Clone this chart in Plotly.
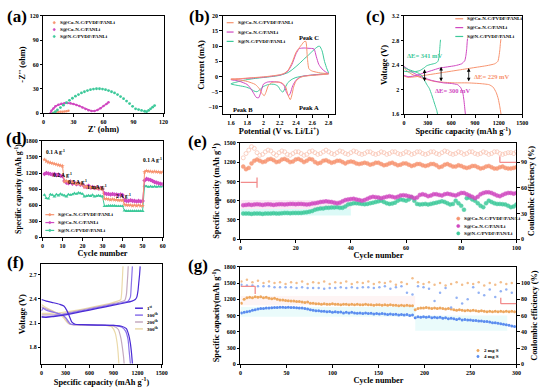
import plotly.graph_objects as go

W, H = 550, 389
FONT = "Liberation Serif"

# ---------------- data ----------------
# (a) Nyquist plots
a_or_x = [9, 11, 13, 15, 17, 19, 21, 23, 25]
a_or_y = [0, 0.8, 1.3, 1.6, 1.8, 2.0, 2.2, 2.5, 3.0]
a_mg_x = [7, 8, 10, 12, 15, 18, 21, 24, 27, 30, 33, 36, 39, 42, 45, 48, 51, 54, 57, 60, 63, 65]
a_mg_y = [0, 3, 6, 8.5, 10.5, 11.8, 12.3, 12.5, 12.3, 11.5, 10.3, 8.8, 7, 5.3, 3.8, 2.8, 2.8, 4, 6.2, 8.8, 11.5, 13.5]
a_gr_x = [10, 12, 14, 17, 20, 23, 26, 29, 32, 35, 38, 41, 44, 47, 50, 53, 56, 59, 62, 65, 68, 71, 74, 77, 80, 83, 86, 89, 92, 95, 98, 101, 103, 105, 107, 109, 111]
a_gr_y = [0, 2, 4, 7, 10, 13, 16, 18.5, 21, 23, 25, 26.5, 28, 29, 29.8, 30.2, 30.2, 29.8, 29, 28, 26.5, 25, 23, 20.5, 18, 15, 12, 8.5, 5.5, 4.5, 3.5, 2.5, 2, 3.5, 5.5, 7.5, 9.5]

# (b) CV curves (cathodic scan 2.8->1.6, then anodic scan 1.6->2.8)
b_or_x = [2.8, 2.7, 2.6, 2.5, 2.45, 2.4, 2.37, 2.35, 2.33, 2.3, 2.27, 2.22, 2.15, 2.1, 2.06, 2.03, 2.01, 1.98, 1.95, 1.9, 1.8, 1.7, 1.6,
          1.7, 1.8, 1.9, 2.0, 2.1, 2.2, 2.25, 2.3, 2.35, 2.4, 2.44, 2.47, 2.5, 2.52, 2.54, 2.56, 2.6, 2.7, 2.8]
b_or_y = [0.9, 0.6, 0.4, 0.1, -0.3, -1.5, -3.5, -6, -7.6, -6, -3.2, -2, -1.8, -2, -3, -5.2, -6.3, -5.5, -4, -2.6, -1.6, -1.1, -0.8,
          -0.7, -0.5, -0.3, -0.1, 0.2, 0.6, 1.0, 2.0, 4.5, 8.0, 9.5, 10.5, 11.5, 11.6, 6, 2.5, 1.8, 1.2, 0.9]
b_mg_x = [2.8, 2.7, 2.6, 2.5, 2.45, 2.4, 2.36, 2.33, 2.31, 2.28, 2.25, 2.2, 2.12, 2.05, 2.0, 1.97, 1.94, 1.91, 1.88, 1.84, 1.8, 1.7, 1.6,
          1.7, 1.8, 1.9, 2.0, 2.1, 2.2, 2.25, 2.3, 2.35, 2.4, 2.44, 2.5, 2.56, 2.62, 2.65, 2.68, 2.72, 2.76, 2.8]
b_mg_y = [0.9, 0.7, 0.5, 0.2, -0.2, -1.2, -3, -5.5, -6.3, -5, -2.8, -1.9, -1.7, -1.8, -2.5, -5, -7, -6.8, -5.5, -3.8, -2.6, -1.5, -1,
          -0.8, -0.6, -0.4, -0.2, 0.1, 0.5, 0.9, 1.8, 4, 7.5, 9.2, 9.4, 9.3, 9.1, 6.5, 4, 2.5, 1.6, 1.0]
b_gr_x = [2.8, 2.7, 2.6, 2.5, 2.4, 2.35, 2.3, 2.27, 2.24, 2.21, 2.18, 2.14, 2.1, 2.05, 2.0, 1.96, 1.92, 1.88, 1.84, 1.78, 1.7, 1.6,
          1.7, 1.8, 1.9, 2.0, 2.1, 2.2, 2.3, 2.35, 2.4, 2.45, 2.5, 2.55, 2.6, 2.64, 2.67, 2.69, 2.72, 2.75, 2.78, 2.8]
b_gr_y = [1.1, 0.8, 0.5, 0.2, -0.3, -0.9, -2, -3.5, -5.1, -4.5, -3.2, -2.6, -2.5, -2.7, -3.3, -4.2, -5, -4.7, -4, -3.4, -3, -2.4,
          -1.6, -1, -0.6, -0.3, 0, 0.4, 1.3, 2.2, 3.3, 4.5, 5.8, 7, 8.3, 9.3, 9.9, 10, 8.5, 5, 2.5, 1.1]

# (c) charge/discharge profiles
c_or_dis_x = [0, 40, 100, 200, 300, 400, 500, 650, 800, 950, 1080, 1130, 1170, 1195, 1215, 1230]
c_or_dis_y = [2.36, 2.3, 2.25, 2.2, 2.16, 2.13, 2.12, 2.11, 2.11, 2.10, 2.08, 2.04, 1.95, 1.85, 1.72, 1.6]
c_or_chg_x = [0, 50, 150, 300, 500, 700, 900, 1050, 1150, 1190, 1205, 1215, 1222, 1228]
c_or_chg_y = [2.22, 2.2, 2.21, 2.24, 2.28, 2.32, 2.36, 2.39, 2.42, 2.46, 2.55, 2.65, 2.75, 2.82]
c_mg_dis_x = [0, 50, 120, 200, 280, 350, 420, 500, 600, 680, 720, 745, 760, 770, 778]
c_mg_dis_y = [2.38, 2.33, 2.27, 2.22, 2.18, 2.15, 2.13, 2.11, 2.10, 2.08, 2.03, 1.95, 1.82, 1.7, 1.6]
c_mg_chg_x = [0, 60, 150, 250, 350, 450, 550, 650, 730, 770, 785, 795, 800, 805]
c_mg_chg_y = [2.23, 2.21, 2.23, 2.27, 2.31, 2.35, 2.37, 2.39, 2.42, 2.47, 2.56, 2.67, 2.76, 2.83]
c_gr_dis_x = [0, 50, 120, 180, 230, 260, 290, 320, 350, 380, 400, 415, 425]
c_gr_dis_y = [2.36, 2.33, 2.3, 2.27, 2.22, 2.15, 2.08, 2.02, 1.92, 1.8, 1.72, 1.66, 1.6]
c_gr_chg_x = [0, 60, 130, 200, 250, 290, 340, 400, 430, 445, 452, 458, 462]
c_gr_chg_y = [2.3, 2.29, 2.29, 2.31, 2.35, 2.39, 2.41, 2.43, 2.46, 2.55, 2.65, 2.75, 2.81]
c_arrow_x = [260, 470, 820]
c_arrow_top = [2.33, 2.37, 2.35]
c_arrow_bot = [2.11, 2.11, 2.11]

# (d) rate performance
d_cycles = list(range(1, 61))
d_or = [1450, 1420, 1400, 1390, 1380, 1370, 1360, 1350, 1340, 1330,
        1040, 1050, 1030, 1040, 1020, 1010, 1000, 1010, 990, 990,
        940, 950, 930, 940, 920, 930, 910, 920, 900, 910,
        720, 720, 710, 700, 710, 700, 700, 690, 690, 690,
        610, 600, 600, 600, 590, 600, 590, 600, 590, 590,
        1220, 1240, 1230, 1230, 1220, 1230, 1220, 1220, 1210, 1220]
d_mg = [1180, 1200, 1190, 1180, 1170, 1180, 1160, 1170, 1150, 1140,
        1050, 1020, 1010, 1040, 1000, 1020, 990, 1010, 980, 990,
        950, 940, 960, 930, 940, 920, 930, 910, 920, 900,
        820, 810, 810, 800, 810, 800, 800, 790, 800, 790,
        690, 680, 680, 690, 680, 680, 670, 680, 670, 680,
        1060, 1090, 1080, 1070, 1050, 1030, 1020, 1010, 1000, 990]
d_gr = [790, 730, 720, 800, 790, 760, 800, 780, 810, 790,
        780, 760, 800, 790, 800, 820, 810, 830, 820, 810,
        760, 770, 780, 770, 790, 760, 770, 780, 770, 760,
        580, 580, 590, 590, 590, 590, 580, 580, 580, 580,
        500, 490, 490, 490, 490, 490, 490, 490, 490, 490,
        960, 950, 940, 950, 940, 950, 940, 950, 945, 950]
d_labels = ["0.1 A g<sup>-1</sup>", "0.2 A g<sup>-1</sup>", "0.5 A g<sup>-1</sup>",
            "1 mA g<sup>-1</sup>", "2 A g<sup>-1</sup>", "0.1 A g<sup>-1</sup>"]
d_label_x = [6.5, 10, 17.5, 27, 40.5, 55]
d_label_y = [1600, 1160, 1040, 930, 775, 1445]

# (e) long cycling 100 cycles
e_cycles = list(range(1, 101))
e_or = [1130, 1090, 1110, 1180, 1220, 1240, 1220, 1200, 1210, 1240,
        1250, 1230, 1200, 1210, 1240, 1250, 1230, 1200, 1210, 1240,
        1250, 1230, 1200, 1220, 1250, 1240, 1200, 1180, 1190, 1220,
        1230, 1210, 1190, 1200, 1220, 1220, 1200, 1180, 1200, 1210,
        1200, 1180, 1170, 1180, 1190, 1180, 1160, 1170, 1190, 1190,
        1170, 1150, 1160, 1180, 1190, 1170, 1150, 1160, 1180, 1180,
        1160, 1140, 1150, 1170, 1170, 1150, 1140, 1150, 1170, 1170,
        1150, 1120, 1130, 1160, 1170, 1150, 1130, 1130, 1150, 1140,
        1120, 1110, 1120, 1140, 1140, 1120, 1100, 1110, 1130, 1140,
        1120, 1100, 1100, 1120, 1130, 1110, 1100, 1100, 1110, 1120]
e_or_ce = [95, 100, 104, 108, 106, 101, 98, 99, 102, 104,
           103, 100, 98, 101, 103, 102, 99, 98, 100, 102,
           102, 100, 98, 99, 102, 103, 101, 99, 100, 102,
           104, 102, 100, 99, 101, 103, 102, 100, 99, 101,
           103, 102, 100, 99, 100, 102, 102, 100, 99, 100,
           102, 101, 99, 100, 102, 102, 100, 99, 100, 102,
           101, 99, 100, 102, 102, 100, 99, 100, 102, 102,
           100, 99, 101, 103, 102, 100, 99, 100, 102, 101,
           99, 100, 102, 102, 100, 99, 100, 102, 101, 99,
           100, 102, 102, 100, 99, 100, 101, 101, 100, 102]
e_mg = [530, 535, 540, 535, 540, 545, 540, 535, 540, 545,
        540, 535, 540, 545, 545, 540, 545, 550, 550, 545,
        550, 550, 545, 540, 545, 555, 560, 570, 580, 585,
        590, 585, 580, 570, 560, 570, 590, 610, 620, 625,
        630, 620, 610, 600, 610, 630, 650, 660, 655, 650,
        640, 650, 660, 670, 660, 650, 660, 680, 685, 680,
        670, 660, 640, 650, 690, 700, 690, 670, 680, 700,
        700, 690, 680, 700, 710, 700, 690, 680, 700, 720,
        720, 700, 680, 660, 640, 660, 700, 720, 730, 730,
        720, 700, 680, 670, 690, 710, 720, 720, 710, 720]
e_gr = [400, 400, 400, 395, 400, 400, 400, 395, 400, 400,
        400, 405, 400, 400, 405, 410, 410, 405, 410, 410,
        410, 410, 415, 420, 430, 440, 460, 470, 480, 480,
        490, 490, 495, 495, 500, 490, 490, 510, 540, 550,
        560, 560, 555, 550, 545, 550, 560, 570, 580, 590,
        600, 580, 560, 550, 555, 570, 600, 620, 610, 600,
        620, 650, 600, 550, 540, 545, 550, 540, 550, 560,
        570, 580, 590, 580, 560, 540, 550, 600, 560, 520,
        460, 640, 650, 620, 600, 560, 520, 500, 560, 600,
        580, 560, 550, 550, 545, 540, 520, 500, 510, 540]

# (f) voltage profiles at selected cycles
f_names = ["1<sup>st</sup>", "100<sup>th</sup>", "200<sup>th</sup>", "300<sup>th</sup>"]
f_dis_x = [
    [0, 60, 150, 230, 280, 320, 350, 380, 420, 500, 700, 900, 1000, 1060, 1090, 1110, 1125, 1135],
    [0, 20, 60, 120, 200, 260, 300, 330, 360, 400, 500, 700, 900, 1000, 1050, 1080, 1095, 1110],
    [0, 50, 120, 200, 260, 300, 330, 360, 400, 600, 800, 900, 960, 990, 1010, 1025, 1032],
    [0, 40, 100, 180, 240, 280, 310, 340, 380, 600, 800, 880, 920, 945, 958, 966]]
f_dis_y = [
    [2.39, 2.37, 2.35, 2.33, 2.31, 2.25, 2.18, 2.11, 2.085, 2.08, 2.075, 2.07, 2.06, 2.03, 1.95, 1.85, 1.72, 1.6],
    [2.25, 2.28, 2.26, 2.24, 2.22, 2.2, 2.17, 2.13, 2.09, 2.08, 2.08, 2.075, 2.07, 2.05, 2.0, 1.9, 1.75, 1.6],
    [2.3, 2.28, 2.25, 2.22, 2.2, 2.16, 2.11, 2.085, 2.08, 2.075, 2.07, 2.06, 2.02, 1.92, 1.8, 1.68, 1.6],
    [2.33, 2.3, 2.27, 2.23, 2.2, 2.16, 2.12, 2.09, 2.08, 2.075, 2.07, 2.05, 1.98, 1.85, 1.72, 1.6]]
f_chg_x = [
    [0, 50, 150, 300, 500, 700, 900, 1050, 1130, 1170, 1190, 1205, 1215, 1225, 1232],
    [0, 100, 250, 450, 650, 850, 1000, 1080, 1110, 1120, 1128, 1135],
    [0, 100, 250, 450, 650, 850, 980, 1040, 1060, 1070, 1078, 1083],
    [0, 100, 250, 450, 650, 850, 950, 990, 1000, 1008, 1014, 1018]]
f_chg_y = [
    [2.18, 2.17, 2.18, 2.2, 2.24, 2.28, 2.32, 2.35, 2.37, 2.39, 2.42, 2.5, 2.6, 2.7, 2.8],
    [2.17, 2.18, 2.2, 2.24, 2.28, 2.32, 2.35, 2.37, 2.42, 2.55, 2.68, 2.8],
    [2.2, 2.2, 2.21, 2.25, 2.29, 2.33, 2.36, 2.38, 2.45, 2.58, 2.7, 2.8],
    [2.22, 2.22, 2.23, 2.26, 2.3, 2.34, 2.37, 2.39, 2.46, 2.6, 2.72, 2.8]]

# (g) high loading 300 cycles (capacity every 3 cycles, CE every 6 cycles)
g_cap_cycles = list(range(1, 300, 3))
g_2mg = [1130, 1200, 1230, 1240, 1230, 1250, 1240, 1250, 1230, 1240,
         1220, 1210, 1220, 1200, 1190, 1190, 1180, 1175, 1170, 1170,
         1160, 1160, 1150, 1140, 1150, 1130, 1130, 1120, 1120, 1110,
         1120, 1110, 1110, 1120, 1110, 1110, 1100, 1110, 1110, 1100,
         1110, 1100, 1110, 1100, 1100, 1110, 1100, 1100, 1090, 1100,
         1100, 1090, 1100, 1090, 1100, 1090, 1090, 1080, 1090, 1080,
         1090, 1080, 1080, 1010, 1030, 1040, 1040, 1050, 1040, 1030,
         1040, 1030, 1040, 1030, 1020, 1030, 1020, 1010, 1000, 1010,
         1000, 990, 1000, 990, 1000, 990, 980, 990, 980, 970,
         980, 970, 980, 970, 980, 970, 980, 970, 980, 970]
g_4mg = [950, 960, 970, 980, 1000, 1010, 1020, 1030, 1030, 1040,
         1040, 1045, 1050, 1050, 1055, 1055, 1050, 1055, 1050, 1050,
         1045, 1040, 1040, 1030, 1020, 1010, 1000, 990, 990, 980,
         980, 970, 975, 960, 970, 960, 965, 950, 960, 950,
         960, 950, 945, 950, 940, 950, 940, 945, 930, 940,
         930, 940, 930, 920, 930, 920, 925, 910, 920, 910,
         920, 900, 910, 860, 880, 870, 880, 870, 880, 860,
         870, 860, 870, 850, 860, 840, 850, 840, 830, 840,
         820, 830, 820, 820, 810, 810, 800, 800, 790, 790,
         780, 770, 770, 760, 750, 740, 730, 720, 710, 700]
g_ce_cycles = list(range(1, 300, 6))
g_2mg_ce = [102, 104, 101, 103, 100, 102, 100, 101, 99, 101,
            100, 102, 99, 101, 100, 102, 99, 101, 100, 102,
            99, 101, 100, 102, 99, 101, 100, 102, 98, 101,
            99, 106, 101, 99, 101, 98, 100, 97, 99, 101,
            98, 100, 99, 101, 97, 100, 98, 101, 99, 100]
g_4mg_ce = [98, 97, 97, 96, 96, 96, 95, 95, 95, 95,
            94, 95, 94, 94, 94, 93, 94, 94, 95, 94,
            95, 94, 95, 95, 94, 95, 96, 93, 95, 96,
            88, 86, 96, 95, 93, 78, 88, 94, 70, 82,
            75, 80, 95, 88, 85, 92, 83, 90, 92, 88]

# ---------------- styling ----------------
OR = "#F7936F"
MG = "#D048C0"
GR = "#3DC99A"
OR_CE = "#F9C7B6"
F_COLORS = ["#4A2BD4", "#8A72EA", "#C5AABF", "#EBDAAA"]
G2 = "#EDA75E"
G4 = "#5B8DEF"
G2_CE = "#F3BE8C"
G4_CE = "#93B2F4"

legend_names = ["S@Co-N-C/PVDF/PANLi", "S@Co-N-C/PANLi", "S@N-C/PVDF/PANLi"]
legend_names_e = ["S@Co-N-C/PVDF/PAN/Li", "S@Co-N-C/PAN/Li", "S@N-C/PVDF/PAN/Li"]


def dom_x(p0, p1):
    return [p0 / W, p1 / W]


def dom_y(p_top, p_bot):
    return [1 - p_bot / H, 1 - p_top / H]


tickfont = dict(family=FONT, size=6, color="black", weight="bold")
titlefont = dict(family=FONT, size=8.3, color="black", weight="bold")


def xax(domain, rng, tickvals, title, anchor, standoff=1):
    return dict(domain=domain, range=rng, tickvals=tickvals, anchor=anchor,
                showline=True, linecolor="black", linewidth=1, mirror=True,
                ticks="outside", ticklen=2.5, tickwidth=1, tickcolor="black",
                showgrid=False, zeroline=False, tickfont=tickfont,
                title=dict(text=title, font=titlefont, standoff=standoff))


def yax(domain, rng, tickvals, title, anchor, mirror=True, standoff=2, tsize=8.3):
    return dict(domain=domain, range=rng, tickvals=tickvals, anchor=anchor,
                showline=True, linecolor="black", linewidth=1, mirror=mirror,
                ticks="outside", ticklen=2.5, tickwidth=1, tickcolor="black",
                showgrid=False, zeroline=False, tickfont=tickfont,
                title=dict(text=title, font=dict(titlefont, size=tsize), standoff=standoff))


fig = go.Figure()

# (a)
fig.add_trace(go.Scatter(x=a_or_x, y=a_or_y, mode="markers", marker=dict(color=OR, size=2.5),
                         xaxis="x", yaxis="y"))
fig.add_trace(go.Scatter(x=a_mg_x, y=a_mg_y, mode="lines+markers", line=dict(color=MG, width=1.5),
                         marker=dict(color=MG, size=2.5), xaxis="x", yaxis="y"))
fig.add_trace(go.Scatter(x=a_gr_x, y=a_gr_y, mode="markers", marker=dict(color=GR, size=2.8),
                         xaxis="x", yaxis="y"))

# (b)
for xs, ys, c in [(b_gr_x, b_gr_y, GR), (b_mg_x, b_mg_y, MG), (b_or_x, b_or_y, OR)]:
    fig.add_trace(go.Scatter(x=xs, y=ys, mode="lines", line=dict(color=c, width=1, shape="spline", smoothing=0.6),
                             xaxis="x2", yaxis="y2"))

# (c)
for xs, ys, c in [(c_or_dis_x, c_or_dis_y, OR), (c_or_chg_x, c_or_chg_y, OR),
                  (c_mg_dis_x, c_mg_dis_y, MG), (c_mg_chg_x, c_mg_chg_y, MG),
                  (c_gr_dis_x, c_gr_dis_y, GR), (c_gr_chg_x, c_gr_chg_y, GR)]:
    fig.add_trace(go.Scatter(x=xs, y=ys, mode="lines", line=dict(color=c, width=1, shape="spline", smoothing=0.5),
                             xaxis="x3", yaxis="y3"))

# (d)
for ys, c, sym in [(d_gr, GR, "triangle-up"), (d_mg, MG, "diamond"), (d_or, OR, "star")]:
    fig.add_trace(go.Scatter(x=d_cycles, y=ys, mode="lines+markers", line=dict(color=c, width=1),
                             marker=dict(color=c, size=3.5, symbol=sym), xaxis="x4", yaxis="y4"))

# (e)
fig.add_trace(go.Scatter(x=e_cycles, y=e_or_ce, mode="markers",
                         marker=dict(color="rgba(255,255,255,0)", size=4, line=dict(color=OR_CE, width=0.8)),
                         xaxis="x5", yaxis="y8"))
for ys, c in [(e_gr, GR), (e_mg, MG), (e_or, OR)]:
    fig.add_trace(go.Scatter(x=e_cycles, y=ys, mode="markers",
                             marker=dict(color=c, size=4, opacity=0.85, line=dict(color=c, width=0.5)),
                             xaxis="x5", yaxis="y5"))

# (f)
for i in [3, 2, 1, 0]:
    fig.add_trace(go.Scatter(x=f_dis_x[i], y=f_dis_y[i], mode="lines",
                             line=dict(color=F_COLORS[i], width=1.2, shape="spline", smoothing=0.5),
                             xaxis="x6", yaxis="y6"))
    fig.add_trace(go.Scatter(x=f_chg_x[i], y=f_chg_y[i], mode="lines",
                             line=dict(color=F_COLORS[i], width=1.2, shape="spline", smoothing=0.5),
                             xaxis="x6", yaxis="y6"))

# (g)
fig.add_trace(go.Scatter(x=g_ce_cycles, y=g_2mg_ce, mode="markers", marker=dict(color=G2_CE, size=2.5),
                         xaxis="x7", yaxis="y9"))
fig.add_trace(go.Scatter(x=g_ce_cycles, y=g_4mg_ce, mode="markers", marker=dict(color=G4_CE, size=2.5),
                         xaxis="x7", yaxis="y9"))
fig.add_trace(go.Scatter(x=g_cap_cycles, y=g_2mg, mode="markers", marker=dict(color=G2, size=3),
                         xaxis="x7", yaxis="y7"))
fig.add_trace(go.Scatter(x=g_cap_cycles, y=g_4mg, mode="markers", marker=dict(color=G4, size=3),
                         xaxis="x7", yaxis="y7"))

# ---------------- axes ----------------
fig.update_layout(
    xaxis=xax(dom_x(42, 164), [0, 120], [0, 30, 60, 90, 120], "Z' (ohm)", "y"),
    yaxis=yax(dom_y(13, 112), [0, 120], [0, 30, 60, 90, 120], "-Z'' (ohm)", "x"),
    xaxis2=xax(dom_x(224, 338), [1.5, 2.88], [1.6, 1.8, 2.0, 2.2, 2.4, 2.6, 2.8],
               "Potential (V vs. Li/Li<sup>+</sup>)", "y2"),
    yaxis2=yax(dom_y(13, 113), [-12.4, 20], [-10, -5, 0, 5, 10, 15, 20], "Current (mA)", "x2"),
    xaxis3=xax(dom_x(408, 528), [0, 1500], [0, 300, 600, 900, 1200, 1500],
               "Specific capacity (mAh g<sup>-1</sup>)", "y3"),
    yaxis3=yax(dom_y(13, 113), [1.6, 3.2], [1.6, 2.0, 2.4, 2.8, 3.2], "Voltage (V)", "x3"),
    xaxis4=xax(dom_x(41, 163), [0, 60], [0, 10, 20, 30, 40, 50, 60], "Cycle number", "y4"),
    yaxis4=yax(dom_y(140, 238), [0, 1800], [0, 300, 600, 900, 1200, 1500, 1800],
               "Specific capacity (mAh g<sup>-1</sup>)", "x4", tsize=7.8),
    xaxis5=xax(dom_x(242, 522), [0, 100], [0, 20, 40, 60, 80, 100], "Cycle number", "y5"),
    yaxis5=yax(dom_y(142, 240), [0, 1500], [0, 300, 600, 900, 1200, 1500],
               "Specific capacity (mAh g<sup>-1</sup>)", "x5", mirror=False),
    yaxis8=dict(overlaying="y5", side="right", anchor="x5", range=[0, 112.5], tickvals=[0, 30, 60, 90],
                showline=True, linecolor="black", linewidth=1, ticks="outside", ticklen=2.5,
                tickcolor="black", showgrid=False, zeroline=False, tickfont=tickfont,
                title=dict(text="Coulombic efficiency (%)", font=titlefont, standoff=2)),
    xaxis6=xax(dom_x(40, 162), [0, 1500], [0, 300, 600, 900, 1200, 1500],
               "Specific capacity (mAh g<sup>-1</sup>)", "y6"),
    yaxis6=yax(dom_y(265, 367), [1.59, 2.83], [1.8, 2.1, 2.4, 2.7], "Voltage (V)", "x6"),
    xaxis7=xax(dom_x(242, 522), [0, 300], [0, 50, 100, 150, 200, 250, 300], "Cycle number", "y7"),
    yaxis7=yax(dom_y(268, 367), [0, 1800], [0, 300, 600, 900, 1200, 1500, 1800],
               "Specific capacity(mAh g<sup>-1</sup>)", "x7", mirror=False),
    yaxis9=dict(overlaying="y7", side="right", anchor="x7", range=[0, 120], tickvals=[0, 20, 40, 60, 80, 100],
                showline=True, linecolor="black", linewidth=1, ticks="outside", ticklen=2.5,
                tickcolor="black", showgrid=False, zeroline=False, tickfont=tickfont,
                title=dict(text="Coulombic efficiency (%)", font=titlefont, standoff=2)),
)

annotations = []
shapes = []

# panel labels
for lab, x, y in [("(a)", 3, 14), ("(b)", 188, 14), ("(c)", 367, 14), ("(d)", 2, 138),
                  ("(e)", 187, 141), ("(f)", 3, 264), ("(g)", 187, 267)]:
    annotations.append(dict(text=lab, x=x / W, y=1 - y / H, xref="paper", yref="paper",
                            xanchor="left", yanchor="middle", showarrow=False,
                            font=dict(family=FONT, size=17, color="black", weight="bold")))


def leg_text(x, y, text, color="black", size=5):
    annotations.append(dict(text=text, x=x / W, y=1 - y / H, xref="paper", yref="paper",
                            xanchor="left", yanchor="middle", showarrow=False,
                            font=dict(family=FONT, size=size, color=color, weight="bold")))


def leg_line(x0, x1, y, color, width=1.2):
    shapes.append(dict(type="line", xref="paper", yref="paper", x0=x0 / W, x1=x1 / W,
                       y0=1 - y / H, y1=1 - y / H, line=dict(color=color, width=width)))


def leg_dot(x, y, color, r=1.3, fill=None):
    shapes.append(dict(type="circle", xref="paper", yref="paper", x0=(x - r) / W, x1=(x + r) / W,
                       y0=1 - (y + r) / H, y1=1 - (y - r) / H,
                       line=dict(color=color, width=0.6), fillcolor=fill or color))


# legend (a)
for i, (c, n) in enumerate(zip([OR, MG, GR], legend_names)):
    yy = [20, 27, 34][i]
    leg_dot(53, yy, c, r=1.1)
    leg_text(57, yy, n)
# legend (b)
for i, (c, n) in enumerate(zip([OR, MG, GR], legend_names)):
    yy = [20, 29.5, 39][i]
    leg_line(228, 235, yy, c)
    leg_text(237, yy, n)
# legend (c)
for i, (c, n) in enumerate(zip([OR, MG, GR], legend_names)):
    yy = [16, 25, 34][i]
    leg_line(460, 468, yy, c)
    leg_text(470, yy, n)
# legend (d)
for i, (c, n) in enumerate(zip([OR, MG, GR], legend_names)):
    yy = [215, 223, 231][i]
    leg_line(44, 53, yy, c)
    leg_dot(48.5, yy, c, r=1.1)
    leg_text(55, yy, n)
# legend (e)
for i, (c, n) in enumerate(zip([OR, MG, GR], legend_names_e)):
    yy = [219, 226.5, 234][i]
    leg_dot(463, yy, c, r=1.6)
    leg_text(467, yy, n)
# legend (f)
for i in range(4):
    yy = [310, 317, 324, 331][i]
    leg_line(135, 143, yy, F_COLORS[i], width=1.5)
    leg_text(145, yy, f_names[i], size=5)
# legend (g)
for i, (c, n) in enumerate(zip([G2, G4], ["2 mg S", "4 mg S"])):
    yy = [353, 359][i]
    leg_dot(483, yy, c, r=1.2)
    leg_text(487, yy, n)

# text in (b)
for t, x, y in [("Peak C", 2.56, 12.8), ("Peak B", 1.75, -11.0), ("Peak A", 2.56, -10.3)]:
    annotations.append(dict(text=t, x=x, y=y, xref="x2", yref="y2", showarrow=False,
                            font=dict(family=FONT, size=6.5, color="black", weight="bold")))

# text in (c)
for t, x, y, c in [("ΔE= 341 mV", 260, 2.56, GR), ("ΔE= 300 mV", 615, 1.98, MG),
                   ("ΔE= 229 mV", 1115, 2.21, OR)]:
    annotations.append(dict(text=t, x=x, y=y, xref="x3", yref="y3", showarrow=False,
                            font=dict(family=FONT, size=6.5, color=c, weight="bold")))
for xa, yt, yb in zip(c_arrow_x, c_arrow_top, c_arrow_bot):
    annotations.append(dict(x=xa, y=yt, ax=xa, ay=yb, xref="x3", yref="y3", axref="x3", ayref="y3",
                            text="", showarrow=True, arrowhead=2, arrowside="end+start",
                            arrowsize=0.9, arrowwidth=0.8, arrowcolor="black"))

# text in (d)
for t, x, y in zip(d_labels, d_label_x, d_label_y):
    annotations.append(dict(text=t, x=x, y=y, xref="x4", yref="y4", showarrow=False,
                            font=dict(family=FONT, size=5.5, color="black", weight="bold")))

# axis pointers in (e) and (g)
PINK = "#F28C8C"
for xr, yr, segs in [
    ("x5", "y5", [((0, 885), (6, 885)), ((6, 960), (6, 800))]),
    ("x5", "y5", [((94, 1195), (100, 1195)), ((94, 1290), (94, 1195))]),
    ("x7", "y7", [((0, 1440), (16, 1440)), ((16, 1440), (16, 1300))]),
    ("x7", "y7", [((283, 1120), (300, 1120)), ((283, 1230), (283, 1120))]),
]:
    for (x0, y0), (x1, y1) in segs:
        shapes.append(dict(type="line", xref=xr, yref=yr, x0=x0, y0=y0, x1=x1, y1=y1,
                           line=dict(color=PINK, width=1.3)))

# faint highlight bands in (e)
shapes.append(dict(type="rect", xref="x5", yref="y5", x0=0, x1=40, y0=470, y1=610,
                   fillcolor="rgba(245,170,220,0.25)", line=dict(width=0), layer="below"))
shapes.append(dict(type="rect", xref="x5", yref="y5", x0=0, x1=40, y0=370, y1=470,
                   fillcolor="rgba(140,240,230,0.3)", line=dict(width=0), layer="below"))
# faint highlight bands in (g)
shapes.append(dict(type="rect", xref="x7", yref="y7", x0=0, x1=190, y0=1090, y1=1260,
                   fillcolor="rgba(250,200,200,0.2)", line=dict(width=0), layer="below"))
shapes.append(dict(type="rect", xref="x7", yref="y7", x0=0, x1=190, y0=880, y1=1060,
                   fillcolor="rgba(170,240,240,0.25)", line=dict(width=0), layer="below"))
shapes.append(dict(type="rect", xref="x7", yref="y7", x0=190, x1=290, y0=620, y1=900,
                   fillcolor="rgba(170,240,240,0.25)", line=dict(width=0), layer="below"))

fig.update_layout(annotations=annotations, shapes=shapes, width=W, height=H,
                  margin=dict(l=0, r=0, t=0, b=0), showlegend=False,
                  paper_bgcolor="white", plot_bgcolor="white",
                  font=dict(family=FONT, color="black"))

fig.write_html("out.html", config={"displayModeBar": False},
               post_script="document.body.style.margin='0px';")
